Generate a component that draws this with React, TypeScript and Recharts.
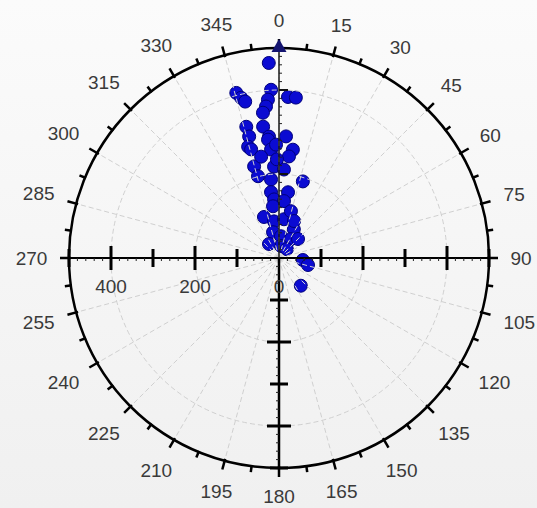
import React from "react";
import {
  ScatterChart,
  Scatter,
  XAxis,
  YAxis,
  ReferenceLine,
  ReferenceDot,
  RadarChart,
  Radar,
  PolarGrid,
  PolarAngleAxis,
  PolarRadiusAxis,
} from "recharts";

const W = 537;
const H = 508;
const CX = 279;
const CY = 258;
const R = 210; // pixel radius of the 500 ring
const R_MAX = 500;
const EXT = 525; // half-width of the cartesian domain
const PX = R / R_MAX; // pixels per unit
const FONT = "'Liberation Sans', Arial, sans-serif";

const angleLabels = [
  "0", "15", "30", "45", "60", "75", "90", "105", "120", "135", "150", "165",
  "180", "195", "210", "225", "240", "255", "270", "285", "300", "315", "330", "345",
];
const gridRadii = [0, 200, 400];
const radiusLabels = [400, 200, 0];
const longTicks = [200, 400];
const shortTicks = [100, 300, 500];

// samples: direction (deg clockwise from north) and magnitude
const directions = [
  357, 345.5, 346.7, 347.8, 357.3, 356, 355.1, 3.2, 6.0, 346,
  346.2, 344.5, 353.1, 355.3, 3.3, 7.3, 5.6, 345.6, 354.7, 355.8,
  344.8, 345.6, 356.9, 3.2, 354.2, 17.3, 353.1, 355.2, 7.8, 5.0,
  353.4, 339.9, 352.3, 7.3, 27.3, 347, 5.2, 32.3, 45, 9.5,
  94.8, 103.6, 141.8, 324.5, 41.6, 353.7, 358.5, 350, 358.8, 14.3,
  22.1,
];
const magnitudes = [
  465, 406, 392, 381, 401, 378, 362, 384, 384, 322,
  298, 275, 315, 290, 290, 260, 243, 267, 283, 259,
  226, 201, 218, 211, 188, 191, 158, 140, 158, 136,
  124, 104, 88, 93, 77, 63, 52, 53, 64, 29,
  57, 71, 84, 41, 28, 348, 270, 245, 235, 115,
  95,
];
const arrowDirection = [0];
const arrowMagnitude = [505];

const toXY = (deg: number, r: number) => ({
  x: r * Math.sin((deg * Math.PI) / 180),
  y: r * Math.cos((deg * Math.PI) / 180),
});
const samples = directions.map((d, i) => toXY(d, magnitudes[i]));
const arrow = arrowDirection.map((d, i) => toXY(d, arrowMagnitude[i]));
const angleRows = angleLabels.map((label) => ({ label, v: 0 }));

const half = EXT * PX;
const margin = {
  left: CX - half,
  right: W - CX - half,
  top: CY - half,
  bottom: H - CY - half,
};

const u = (px: number) => px / PX;
const smallSteps: number[] = [];
for (let v = 20; v < R_MAX; v += 20) if (v % 100 !== 0) smallSteps.push(v);

const AngleTick = (props: any) => {
  const { payload } = props;
  const cx = props.cx ?? CX;
  const cy = props.cy ?? CY;
  const radius = props.radius ?? R;
  const a = payload.coordinate;
  const at = (deg: number, r: number) => {
    const rad = (-deg * Math.PI) / 180;
    return { x: cx + r * Math.cos(rad), y: cy + r * Math.sin(rad) };
  };
  const m0 = at(a, radius - 2);
  const m1 = at(a, radius + 9);
  const n0 = at(a - 7.5, radius - 1);
  const n1 = at(a - 7.5, radius + 6);
  const rad = (-a * Math.PI) / 180;
  const label = String(payload.value);
  const extent = Math.abs(Math.cos(rad)) * label.length * 5.5 + Math.abs(Math.sin(rad)) * 7;
  const p = at(a, radius + 21 + extent);
  return (
    <g>
      <line x1={m0.x} y1={m0.y} x2={m1.x} y2={m1.y} stroke="#000" strokeWidth={2.5} />
      <line x1={n0.x} y1={n0.y} x2={n1.x} y2={n1.y} stroke="#000" strokeWidth={2.5} />
      <text
        x={p.x}
        y={p.y}
        textAnchor="middle"
        dominantBaseline="central"
        fontFamily={FONT}
        fontSize={19}
        fill="#3a3a3a"
      >
        {label}
      </text>
    </g>
  );
};

const layer: React.CSSProperties = { position: "absolute", left: 0, top: 0 };

export default function App() {
  return (
    <div
      style={{
        position: "absolute",
        left: 0,
        top: 0,
        width: W,
        height: H,
        background: "linear-gradient(#fbfbfb, #f0f0f0)",
        overflow: "hidden",
      }}
    >
      {/* points */}
      <div style={layer}>
        <ScatterChart width={W} height={H} margin={margin}>
          <XAxis type="number" dataKey="x" domain={[-EXT, EXT]} hide allowDataOverflow />
          <YAxis type="number" dataKey="y" domain={[-EXT, EXT]} hide allowDataOverflow />
          <Scatter
            data={samples}
            isAnimationActive={false}
            shape={(p: any) => (
              <circle cx={p.cx} cy={p.cy} r={6.5} fill="#0b0bd2" stroke="#00007a" strokeWidth={1} />
            )}
          />
        </ScatterChart>
      </div>

      {/* polar grid, ring and angle labels */}
      <div style={layer}>
        <RadarChart
          width={W}
          height={H}
          cx={CX}
          cy={CY}
          outerRadius={R}
          data={angleRows}
          margin={{ top: 0, right: 0, bottom: 0, left: 0 }}
        >
          <PolarGrid gridType="circle" stroke="#d0d0d0" strokeDasharray="5 3" />
          <PolarAngleAxis
            dataKey="label"
            type="category"
            axisLineType="circle"
            axisLine={{ stroke: "#000", strokeWidth: 2.5 }}
            tickLine={false}
            tick={AngleTick}
          />
          <PolarRadiusAxis
            type="number"
            domain={[0, R_MAX]}
            ticks={gridRadii}
            tick={false}
            axisLine={false}
          />
          <Radar dataKey="v" stroke="none" fill="none" dot={false} isAnimationActive={false} />
        </RadarChart>
      </div>

      {/* cross axes */}
      <div style={layer}>
        <ScatterChart width={W} height={H} margin={margin}>
          <XAxis type="number" dataKey="x" domain={[-EXT, EXT]} hide allowDataOverflow />
          <YAxis type="number" dataKey="y" domain={[-EXT, EXT]} hide allowDataOverflow />
          <ReferenceLine segment={[{ x: -R_MAX, y: 0 }, { x: R_MAX, y: 0 }]} stroke="#000" strokeWidth={2} ifOverflow="visible" />
          <ReferenceLine segment={[{ x: 0, y: 0 }, { x: 0, y: -R_MAX }]} stroke="#000" strokeWidth={2.5} ifOverflow="visible" />
          <ReferenceLine segment={[{ x: 0, y: 0 }, { x: 0, y: R_MAX }]} stroke="#1a1a1a" strokeWidth={1.5} ifOverflow="visible" />

          {[-1, 1].flatMap((s) =>
            longTicks.map((v) => (
              <ReferenceLine key={`hl${s}${v}`} segment={[{ x: s * v, y: -u(12) }, { x: s * v, y: u(12) }]} stroke="#000" strokeWidth={3} ifOverflow="visible" />
            ))
          )}
          {[-1, 1].flatMap((s) =>
            shortTicks.map((v) => (
              <ReferenceLine key={`hs${s}${v}`} segment={[{ x: s * v, y: -u(9) }, { x: s * v, y: u(9) }]} stroke="#000" strokeWidth={3} ifOverflow="visible" />
            ))
          )}
          {[-1, 1].flatMap((s) =>
            smallSteps.map((v) => (
              <ReferenceLine key={`hm${s}${v}`} segment={[{ x: s * v, y: 0 }, { x: s * v, y: -u(3) }]} stroke="#222" strokeWidth={1} ifOverflow="visible" />
            ))
          )}

          {longTicks.map((v) => (
            <ReferenceLine key={`dl${v}`} segment={[{ x: -u(12), y: -v }, { x: u(12), y: -v }]} stroke="#000" strokeWidth={3} ifOverflow="visible" />
          ))}
          {shortTicks.map((v) => (
            <ReferenceLine key={`ds${v}`} segment={[{ x: -u(9), y: -v }, { x: u(9), y: -v }]} stroke="#000" strokeWidth={3} ifOverflow="visible" />
          ))}
          {smallSteps.map((v) => (
            <ReferenceLine key={`dm${v}`} segment={[{ x: 0, y: -v }, { x: -u(3), y: -v }]} stroke="#222" strokeWidth={1} ifOverflow="visible" />
          ))}

          {longTicks.map((v) => (
            <ReferenceLine key={`ul${v}`} segment={[{ x: 0, y: v }, { x: u(9), y: v }]} stroke="#111" strokeWidth={2} ifOverflow="visible" />
          ))}
          {smallSteps.map((v) => (
            <ReferenceLine key={`um${v}`} segment={[{ x: 0, y: v }, { x: u(3), y: v }]} stroke="#222" strokeWidth={1} ifOverflow="visible" />
          ))}

          {radiusLabels.map((v) => (
            <ReferenceDot
              key={`rl${v}`}
              x={-v}
              y={0}
              r={0}
              ifOverflow="visible"
              shape={(p: any) => (
                <text
                  x={p.cx}
                  y={p.cy + 28}
                  textAnchor="middle"
                  dominantBaseline="central"
                  fontFamily={FONT}
                  fontSize={19}
                  fill="#3a3a3a"
                >
                  {v}
                </text>
              )}
            />
          ))}

          <Scatter
            data={arrow}
            isAnimationActive={false}
            shape={(p: any) => (
              <polygon
                points={`${p.cx},${p.cy - 7} ${p.cx - 7.5},${p.cy + 6} ${p.cx + 7.5},${p.cy + 6}`}
                fill="#141470"
              />
            )}
          />
        </ScatterChart>
      </div>
    </div>
  );
}
